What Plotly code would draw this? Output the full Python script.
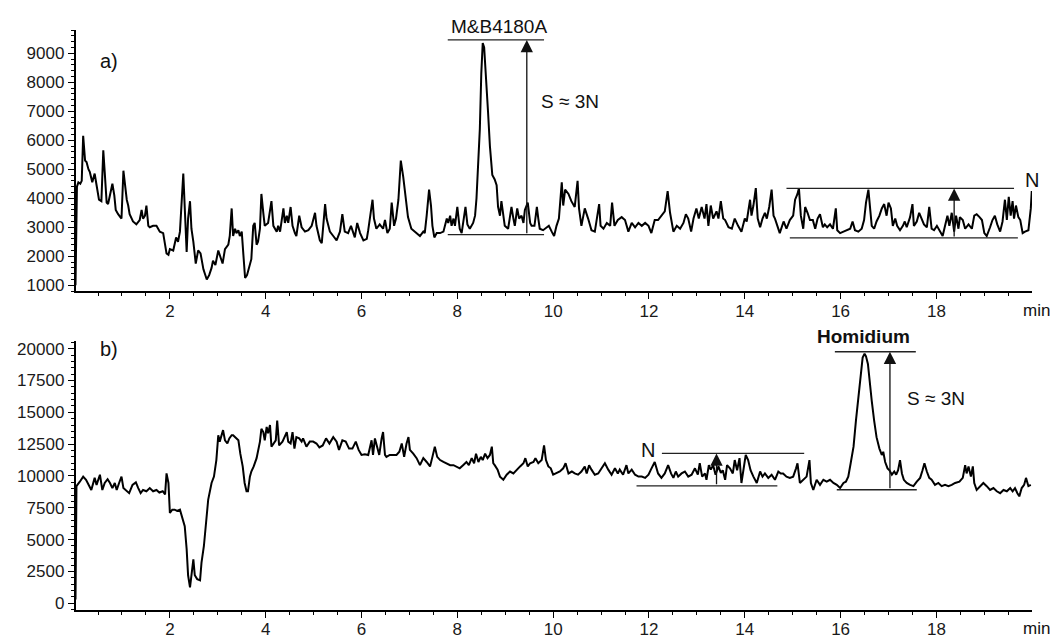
import plotly.graph_objects as go

# ---------------- data ----------------
TOP_TIME = [0.03, 0.04, 0.06, 0.09, 0.13, 0.16, 0.19, 0.23, 0.26, 0.30, 0.33, 0.38, 0.43, 0.47, 0.52, 0.57, 0.61, 0.64, 0.68, 0.71,
            0.75, 0.80, 0.84, 0.87, 0.92, 0.96, 0.99, 1.03, 1.06, 1.10, 1.13, 1.16, 1.23, 1.30, 1.37, 1.41, 1.44, 1.48, 1.51, 1.55,
            1.58, 1.65, 1.72, 1.79, 1.86, 1.93, 1.97, 2.00, 2.07, 2.13, 2.17, 2.21, 2.28, 2.31, 2.35, 2.38, 2.42, 2.45, 2.49, 2.54,
            2.59, 2.64, 2.70, 2.77, 2.82, 2.87, 2.90, 2.95, 3.01, 3.06, 3.10, 3.15, 3.22, 3.25, 3.29, 3.32, 3.36, 3.39, 3.43, 3.46,
            3.50, 3.53, 3.57, 3.61, 3.67, 3.70, 3.74, 3.77, 3.81, 3.84, 3.88, 3.91, 3.95, 3.98, 4.05, 4.12, 4.16, 4.23, 4.26, 4.30,
            4.37, 4.40, 4.44, 4.47, 4.52, 4.56, 4.61, 4.64, 4.70, 4.75, 4.82, 4.89, 4.96, 5.03, 5.06, 5.13, 5.17, 5.20, 5.24, 5.27,
            5.34, 5.41, 5.48, 5.55, 5.60, 5.65, 5.72, 5.78, 5.83, 5.86, 5.91, 5.97, 6.04, 6.11, 6.14, 6.18, 6.23, 6.26, 6.31, 6.38,
            6.45, 6.49, 6.54, 6.59, 6.63, 6.68, 6.72, 6.77, 6.82, 6.87, 6.91, 6.97, 7.04, 7.11, 7.22, 7.29, 7.32, 7.36, 7.41, 7.45,
            7.48, 7.52, 7.57, 7.64, 7.71, 7.78, 7.81, 7.85, 7.88, 7.92, 7.95, 8.00, 8.05, 8.09, 8.12, 8.17, 8.21, 8.26, 8.33, 8.37,
            8.40, 8.44, 8.47, 8.50, 8.53, 8.56, 8.60, 8.64, 8.68, 8.73, 8.78, 8.82, 8.85, 8.89, 8.92, 8.96, 8.99, 9.06, 9.13, 9.17,
            9.20, 9.25, 9.29, 9.34, 9.38, 9.41, 9.47, 9.52, 9.55, 9.61, 9.66, 9.69, 9.72, 9.79, 9.86, 9.91, 9.97, 10.02, 10.07, 10.12,
            10.18, 10.21, 10.25, 10.32, 10.38, 10.45, 10.51, 10.54, 10.59, 10.66, 10.73, 10.80, 10.87, 10.96, 10.99, 11.05, 11.12, 11.19, 11.23, 11.28,
            11.35, 11.43, 11.50, 11.57, 11.64, 11.71, 11.78, 11.85, 11.92, 11.99, 12.05, 12.12, 12.19, 12.26, 12.33, 12.39, 12.44, 12.51, 12.58, 12.65,
            12.72, 12.77, 12.82, 12.88, 12.93, 12.99, 13.04, 13.10, 13.16, 13.20, 13.24, 13.29, 13.34, 13.41, 13.45, 13.50, 13.55, 13.59, 13.66, 13.73,
            13.79, 13.86, 13.93, 14.00, 14.04, 14.11, 14.14, 14.18, 14.23, 14.27, 14.32, 14.37, 14.42, 14.46, 14.51, 14.56, 14.60, 14.63, 14.70, 14.73,
            14.81, 14.87, 14.94, 15.01, 15.05, 15.10, 15.13, 15.17, 15.22, 15.26, 15.31, 15.36, 15.42, 15.47, 15.52, 15.57, 15.63, 15.67, 15.72, 15.78,
            15.84, 15.90, 15.93, 15.99, 16.06, 16.13, 16.20, 16.25, 16.30, 16.37, 16.44, 16.49, 16.53, 16.58, 16.61, 16.65, 16.70, 16.75, 16.81, 16.86,
            16.91, 16.96, 17.00, 17.05, 17.09, 17.14, 17.18, 17.24, 17.30, 17.34, 17.38, 17.45, 17.50, 17.53, 17.59, 17.64, 17.69, 17.74, 17.80, 17.85,
            17.90, 17.95, 18.01, 18.06, 18.13, 18.18, 18.23, 18.27, 18.32, 18.37, 18.41, 18.46, 18.49, 18.55, 18.60, 18.67, 18.74, 18.79, 18.84, 18.90,
            18.95, 19.00, 19.05, 19.12, 19.17, 19.22, 19.27, 19.33, 19.38, 19.43, 19.47, 19.51, 19.55, 19.59, 19.62, 19.66, 19.71, 19.75, 19.80, 19.85,
            19.92, 19.97, 19.99]
TOP_SIGNAL = [1000, 3100, 4400, 4550, 4500, 4600, 6150, 5300, 5250, 5000, 4900, 4550, 4850, 4450, 3950, 3900, 5650, 4900, 3850, 3800,
              4100, 4500, 4100, 3600, 3450, 3350, 3300, 4950, 4450, 3950, 3750, 3450, 3200, 3100, 3250, 3600, 3300, 3400, 3750, 3050,
              3000, 3050, 3050, 2850, 2800, 2100, 2050, 2250, 2200, 2650, 2500, 2850, 4850, 3850, 2150, 3300, 3900, 2950, 2500, 1750,
              2200, 2100, 1550, 1200, 1350, 1600, 1850, 1700, 2200, 1950, 1750, 2250, 2400, 2700, 3650, 2700, 2950, 2800, 2900, 2700,
              2850, 2150, 1250, 1350, 1700, 1900, 3050, 3150, 2400, 2500, 2950, 4150, 3500, 3050, 3150, 3900, 3050, 2850, 3050, 2850,
              3650, 3150, 3400, 3150, 3700, 3050, 2800, 2700, 3400, 3000, 2850, 2900, 3050, 3500, 3050, 2550, 2450, 3150, 3800, 3300,
              2850, 2700, 2550, 2850, 3450, 2850, 2800, 3050, 2800, 2650, 3150, 2800, 2550, 2600, 2900, 3300, 3950, 3300, 2950, 3100,
              2950, 3250, 2800, 2950, 3850, 3050, 3300, 3950, 5300, 4750, 4100, 3350, 2950, 2850, 2700, 2850, 2800, 3400, 4300, 3750,
              3050, 2650, 2800, 2800, 2850, 3300, 3150, 3400, 3050, 3300, 3050, 3700, 2950, 2800, 3150, 3700, 3100, 2950, 3150, 3400,
              4000, 5200, 6400, 8300, 9350, 9200, 8200, 7000, 5800, 4800, 4650, 4450, 3700, 3400, 3900, 3500, 3050, 2950, 3700, 3300,
              3050, 3650, 3300, 3400, 3150, 3600, 3850, 3150, 3050, 3050, 3700, 3300, 2950, 2900, 3000, 3050, 2850, 2700, 3050, 3300,
              4550, 3750, 4300, 4150, 3900, 3700, 4600, 3650, 3050, 3650, 3300, 2900, 2850, 3800, 3050, 2950, 3150, 3050, 3850, 3050,
              3250, 3350, 3250, 2850, 3150, 3000, 3150, 3050, 3150, 3050, 2800, 3250, 3250, 3400, 3550, 4250, 3500, 2850, 3050, 2950,
              3150, 3450, 3300, 2850, 3300, 3650, 3300, 3700, 3300, 3800, 3050, 3750, 3300, 3550, 3300, 3900, 3300, 3250, 3000, 2950,
              3300, 3050, 2850, 3300, 3200, 3950, 3400, 3750, 4350, 3300, 3000, 3300, 3500, 3300, 3700, 4300, 3400, 3300, 2900, 2800,
              3200, 2950, 3250, 3400, 3950, 4150, 4350, 3400, 2950, 3700, 3500, 3250, 3250, 2950, 3300, 3450, 3000, 3100, 3000, 3100,
              2950, 3650, 2900, 2800, 2850, 2900, 2950, 3200, 2900, 2850, 2950, 3250, 3850, 4300, 3650, 3050, 2950, 3200, 3400, 3650,
              3800, 3400, 3850, 3650, 3050, 3300, 3050, 2900, 3050, 3200, 3000, 3350, 3800, 3050, 3200, 3500, 3300, 3100, 3000, 3700,
              2950, 2900, 3050, 2900, 2700, 3050, 3400, 3050, 3500, 2850, 3400, 2950, 3350, 3250, 2950, 3100, 2950, 3400, 3450, 3350,
              3250, 2800, 2700, 3000, 3250, 3400, 3100, 2850, 3200, 3950, 3250, 4050, 3400, 3900, 3300, 3750, 3350, 3250, 2800, 2850,
              2900, 3650, 4250]

BOT_TIME = [0.03, 0.05, 0.12, 0.19, 0.25, 0.30, 0.36, 0.43, 0.47, 0.54, 0.59, 0.64, 0.70, 0.75, 0.80, 0.85, 0.89, 0.94, 0.99, 1.03,
            1.08, 1.15, 1.22, 1.29, 1.34, 1.39, 1.44, 1.51, 1.58, 1.65, 1.72, 1.78, 1.85, 1.90, 1.93, 1.97, 2.00, 2.05, 2.10, 2.15,
            2.21, 2.26, 2.31, 2.35, 2.38, 2.42, 2.45, 2.49, 2.52, 2.57, 2.63, 2.66, 2.71, 2.75, 2.80, 2.87, 2.92, 2.97, 3.01, 3.04,
            3.08, 3.11, 3.15, 3.20, 3.24, 3.29, 3.32, 3.38, 3.43, 3.47, 3.52, 3.56, 3.60, 3.63, 3.67, 3.70, 3.75, 3.81, 3.84, 3.88,
            3.91, 3.95, 3.98, 4.02, 4.05, 4.09, 4.12, 4.17, 4.21, 4.24, 4.28, 4.35, 4.40, 4.44, 4.47, 4.52, 4.56, 4.60, 4.64, 4.70,
            4.75, 4.78, 4.85, 4.92, 4.99, 5.06, 5.12, 5.19, 5.26, 5.33, 5.41, 5.48, 5.53, 5.60, 5.67, 5.74, 5.81, 5.88, 5.94, 6.00,
            6.07, 6.14, 6.21, 6.24, 6.28, 6.31, 6.37, 6.42, 6.45, 6.49, 6.52, 6.59, 6.66, 6.73, 6.79, 6.84, 6.89, 6.94, 6.98, 7.01,
            7.08, 7.15, 7.22, 7.29, 7.36, 7.43, 7.48, 7.53, 7.58, 7.64, 7.71, 7.78, 7.85, 7.92, 7.98, 8.05, 8.12, 8.19, 8.24, 8.30,
            8.35, 8.39, 8.44, 8.49, 8.53, 8.58, 8.63, 8.68, 8.72, 8.75, 8.78, 8.84, 8.89, 8.96, 9.03, 9.10, 9.17, 9.24, 9.31, 9.38,
            9.42, 9.47, 9.52, 9.59, 9.63, 9.69, 9.76, 9.81, 9.85, 9.90, 9.95, 10.00, 10.07, 10.14, 10.21, 10.26, 10.32, 10.39, 10.45, 10.52,
            10.59, 10.66, 10.70, 10.75, 10.80, 10.87, 10.94, 11.01, 11.08, 11.15, 11.22, 11.29, 11.35, 11.39, 11.46, 11.53, 11.57, 11.64, 11.71, 11.78,
            11.85, 11.92, 11.99, 12.04, 12.12, 12.19, 12.26, 12.33, 12.40, 12.46, 12.51, 12.56, 12.61, 12.68, 12.75, 12.82, 12.89, 12.96, 13.02, 13.06,
            13.11, 13.17, 13.20, 13.25, 13.29, 13.34, 13.39, 13.45, 13.50, 13.54, 13.59, 13.63, 13.69, 13.75, 13.79, 13.84, 13.89, 13.93, 13.98, 14.02,
            14.07, 14.12, 14.18, 14.25, 14.32, 14.37, 14.42, 14.49, 14.56, 14.63, 14.70, 14.75, 14.80, 14.87, 14.94, 15.01, 15.07, 15.10, 15.15, 15.22,
            15.29, 15.35, 15.38, 15.43, 15.50, 15.57, 15.64, 15.71, 15.78, 15.85, 15.92, 15.99, 16.06, 16.11, 16.16, 16.21, 16.27, 16.32, 16.37, 16.42,
            16.46, 16.50, 16.53, 16.57, 16.60, 16.65, 16.70, 16.75, 16.81, 16.86, 16.89, 16.93, 16.98, 17.02, 17.07, 17.12, 17.16, 17.20, 17.24, 17.28,
            17.32, 17.38, 17.45, 17.52, 17.59, 17.66, 17.71, 17.75, 17.80, 17.85, 17.90, 17.97, 18.04, 18.11, 18.18, 18.25, 18.32, 18.39, 18.48, 18.55,
            18.60, 18.63, 18.67, 18.72, 18.76, 18.79, 18.84, 18.91, 18.98, 19.05, 19.12, 19.19, 19.26, 19.33, 19.40, 19.47, 19.54, 19.59, 19.64, 19.69,
            19.73, 19.78, 19.83, 19.87, 19.92, 19.97]
BOT_SIGNAL = [300, 9200, 9550, 9950, 9700, 9300, 8900, 9850, 9300, 10100, 8900, 9450, 9750, 9450, 9050, 9450, 8900, 9450, 9950, 9050,
              8900, 8650, 9300, 9500, 9050, 8650, 8900, 8800, 9050, 8800, 8900, 8700, 8800, 8550, 10200, 9450, 7100, 7350, 7350, 7250,
              7350, 6600, 6050, 4250, 2200, 1250, 2200, 3450, 2200, 1900, 1800, 3200, 4500, 6050, 8150, 9450, 9950, 11250, 13200, 12700,
              13350, 13600, 12800, 12550, 12950, 13200, 13200, 12950, 12800, 11750, 10750, 9450, 8800, 8800, 9950, 10350, 10750, 11400, 11900, 12700,
              13700, 13450, 12800, 13850, 13350, 14000, 12300, 12550, 12800, 14350, 12400, 12700, 13200, 13450, 12700, 12550, 13450, 12150, 13050, 12950,
              12700, 12950, 12300, 12700, 12700, 12550, 12250, 12400, 12950, 12550, 13050, 12700, 12050, 12800, 12700, 12150, 12150, 12700, 12050, 11650,
              11700, 11650, 12800, 11650, 12950, 12550, 11650, 12950, 13450, 11650, 11500, 11650, 11650, 11650, 11900, 12550, 11500, 12550, 13050, 12050,
              11750, 11400, 10850, 11400, 11100, 10750, 11500, 12300, 11500, 11250, 11100, 11000, 10850, 10850, 10750, 10600, 10850, 11100, 10850, 11400,
              11000, 11750, 11100, 11500, 11250, 11750, 11400, 11650, 12300, 11000, 10850, 10500, 9950, 9700, 10100, 10350, 10200, 10500, 10750, 11000,
              11400, 10750, 11000, 11100, 11400, 11000, 11250, 12400, 11250, 10750, 10600, 10100, 10200, 10350, 10600, 11000, 10200, 10350, 10200, 10100,
              10350, 10750, 10200, 10850, 10500, 10100, 10200, 10600, 11000, 10500, 10100, 10600, 10200, 10500, 10100, 10850, 10200, 10500, 10100, 9950,
              9950, 9850, 10100, 10500, 11100, 10200, 9850, 10200, 10850, 10200, 9850, 10350, 9950, 10200, 10350, 9950, 10100, 10600, 10100, 11000,
              9950, 10200, 9700, 10850, 10500, 10850, 10100, 10750, 10250, 10450, 9700, 10850, 10600, 10200, 11250, 10450, 11400, 9450, 10750, 11650,
              11250, 10450, 9950, 9450, 10350, 9950, 10200, 9850, 10100, 9700, 10350, 10200, 10200, 9950, 9850, 9950, 10600, 11000, 9450, 9700,
              9950, 11250, 9450, 8900, 9700, 9300, 9700, 9550, 9700, 9450, 9300, 9050, 9450, 9550, 9950, 11000, 12300, 14350, 16200, 18000,
              19300, 19600, 19400, 18800, 17500, 15900, 14350, 13050, 12150, 11650, 11900, 11100, 10600, 10450, 10100, 10350, 10100, 10450, 11250, 10200,
              9700, 9450, 9300, 9200, 9550, 9850, 10450, 11000, 10350, 9850, 9700, 9300, 9450, 9200, 9300, 9200, 9300, 9450, 9550, 9850,
              10850, 10200, 10750, 9950, 10750, 9450, 8900, 9200, 9450, 9200, 8900, 9050, 8800, 8650, 8900, 8800, 9050, 8800, 9050, 8650,
              8400, 9050, 9300, 9850, 9200, 9300]

X_TICK_STEP, X_MINOR_STEP = 2, 0.5
TOP_Y_TICK_STEP, TOP_Y_MINOR_STEP = 1000, 200
BOT_Y_TICK_STEP, BOT_Y_MINOR_STEP = 2500, 500

# S / N construction levels
TOP_S_HIGH, TOP_S_LOW, TOP_S_SPAN, TOP_S_ARROW = 9460, 2745, (7.80, 9.81), 9.45
TOP_N_HIGH, TOP_N_LOW = 4340, 2633
TOP_N_HIGH_SPAN, TOP_N_LOW_SPAN, TOP_N_ARROW = (14.87, 19.62), (14.94, 19.70), 18.37
BOT_S_HIGH, BOT_S_LOW = 19760, 8920
BOT_S_HIGH_SPAN, BOT_S_LOW_SPAN, BOT_S_ARROW = (15.88, 17.57), (15.92, 17.59), 17.03
BOT_N_HIGH, BOT_N_LOW = 11770, 9230
BOT_N_HIGH_SPAN, BOT_N_LOW_SPAN, BOT_N_ARROW = (12.27, 15.24), (11.74, 14.68), 13.41

# ---------------- figure ----------------
W, H = 1053, 639
FONT = "Liberation Sans, Arial, sans-serif"


def px_x(p):
    return p / W


def px_y(p):
    return 1 - p / H


fig = go.Figure()
fig.add_trace(go.Scatter(x=TOP_TIME, y=TOP_SIGNAL, mode="lines", xaxis="x", yaxis="y",
                         line=dict(color="black", width=2), hoverinfo="skip", showlegend=False))
fig.add_trace(go.Scatter(x=BOT_TIME, y=BOT_SIGNAL, mode="lines", xaxis="x2", yaxis="y2",
                         line=dict(color="black", width=2), hoverinfo="skip", showlegend=False))

axis_common = dict(showline=True, linecolor="black", linewidth=1.5, ticks="outside", ticklen=6,
                   tickwidth=1.2, tickcolor="black", showgrid=False, zeroline=False, tickmode="linear",
                   tick0=0, tickformat="d",
                   tickfont=dict(family=FONT, size=17, color="#1a1a1a"))


def minor(step):
    return dict(tickmode="linear", tick0=0, dtick=step, ticklen=3, ticks="outside",
                tickcolor="black", tickwidth=1, showgrid=False)


xdom = [px_x(75.5), px_x(1032)]
fig.update_layout(
    width=W, height=H, margin=dict(l=0, r=0, t=0, b=0),
    paper_bgcolor="white", plot_bgcolor="white", showlegend=False,
    xaxis=dict(domain=xdom, anchor="y", range=[0.03, 19.995], dtick=X_TICK_STEP,
               minor=minor(X_MINOR_STEP), ticklabelstandoff=-2, **axis_common),
    yaxis=dict(domain=[px_y(293), px_y(29)], anchor="x", range=[795, 9810], dtick=TOP_Y_TICK_STEP,
               minor=minor(TOP_Y_MINOR_STEP), **axis_common),
    xaxis2=dict(domain=xdom, anchor="y2", range=[0.03, 19.995], dtick=X_TICK_STEP,
                minor=minor(X_MINOR_STEP), ticklabelstandoff=-3, **axis_common),
    yaxis2=dict(domain=[px_y(615), px_y(343)], anchor="x2", range=[-545, 20620], dtick=BOT_Y_TICK_STEP,
                minor=minor(BOT_Y_MINOR_STEP), **axis_common),
)

LINE = dict(color="#222222", width=1.3)


def hline(xr, yr, span, level):
    fig.add_shape(type="line", xref=xr, yref=yr, x0=span[0], x1=span[1], y0=level, y1=level, line=LINE)


def arrow(xr, yr, t, low, high):
    fig.add_annotation(xref=xr, yref=yr, axref=xr, ayref=yr, x=t, y=high, ax=t, ay=low, text="",
                       showarrow=True, arrowhead=2, arrowsize=1.9, arrowwidth=1.3, arrowcolor="#111111",
                       standoff=0, startstandoff=0)


hline("x", "y", TOP_S_SPAN, TOP_S_HIGH)
hline("x", "y", TOP_S_SPAN, TOP_S_LOW)
arrow("x", "y", TOP_S_ARROW, TOP_S_LOW, TOP_S_HIGH)
hline("x", "y", TOP_N_HIGH_SPAN, TOP_N_HIGH)
hline("x", "y", TOP_N_LOW_SPAN, TOP_N_LOW)
arrow("x", "y", TOP_N_ARROW, TOP_N_LOW, TOP_N_HIGH)

hline("x2", "y2", BOT_S_HIGH_SPAN, BOT_S_HIGH)
hline("x2", "y2", BOT_S_LOW_SPAN, BOT_S_LOW)
arrow("x2", "y2", BOT_S_ARROW, BOT_S_LOW, BOT_S_HIGH)
hline("x2", "y2", BOT_N_HIGH_SPAN, BOT_N_HIGH)
hline("x2", "y2", BOT_N_LOW_SPAN, BOT_N_LOW)
arrow("x2", "y2", BOT_N_ARROW, BOT_N_LOW, BOT_N_HIGH)


def label(text, cx, cy, size, bold=False):
    fig.add_annotation(xref="paper", yref="paper", x=px_x(cx), y=px_y(cy),
                       text=("<b>%s</b>" % text) if bold else text,
                       showarrow=False, xanchor="center", yanchor="middle",
                       font=dict(family=FONT, size=size, color="#111111"))


label("a)", 109, 61, 20)
label("b)", 109, 351, 20)
label("M&amp;B4180A", 499, 26, 19)
label("S ≈ 3N", 570, 101, 19)
label("N", 1032, 181, 20)
label("min", 1036, 312, 17)
label("min", 1036, 633, 17)
label("Homidium", 863, 339, 19, bold=True)
label("S ≈ 3N", 936, 401, 19)
label("N", 648, 453, 20)

# the page is shown in a window exactly the size of the figure: remove the
# default body margin and scrollbars so the figure sits at the top-left corner
PAGE_FIX = ("document.documentElement.style.overflow='hidden';"
            "document.body.style.margin='0';document.body.style.overflow='hidden';")

fig.write_html("out.html", post_script=PAGE_FIX, config={"displayModeBar": False})
